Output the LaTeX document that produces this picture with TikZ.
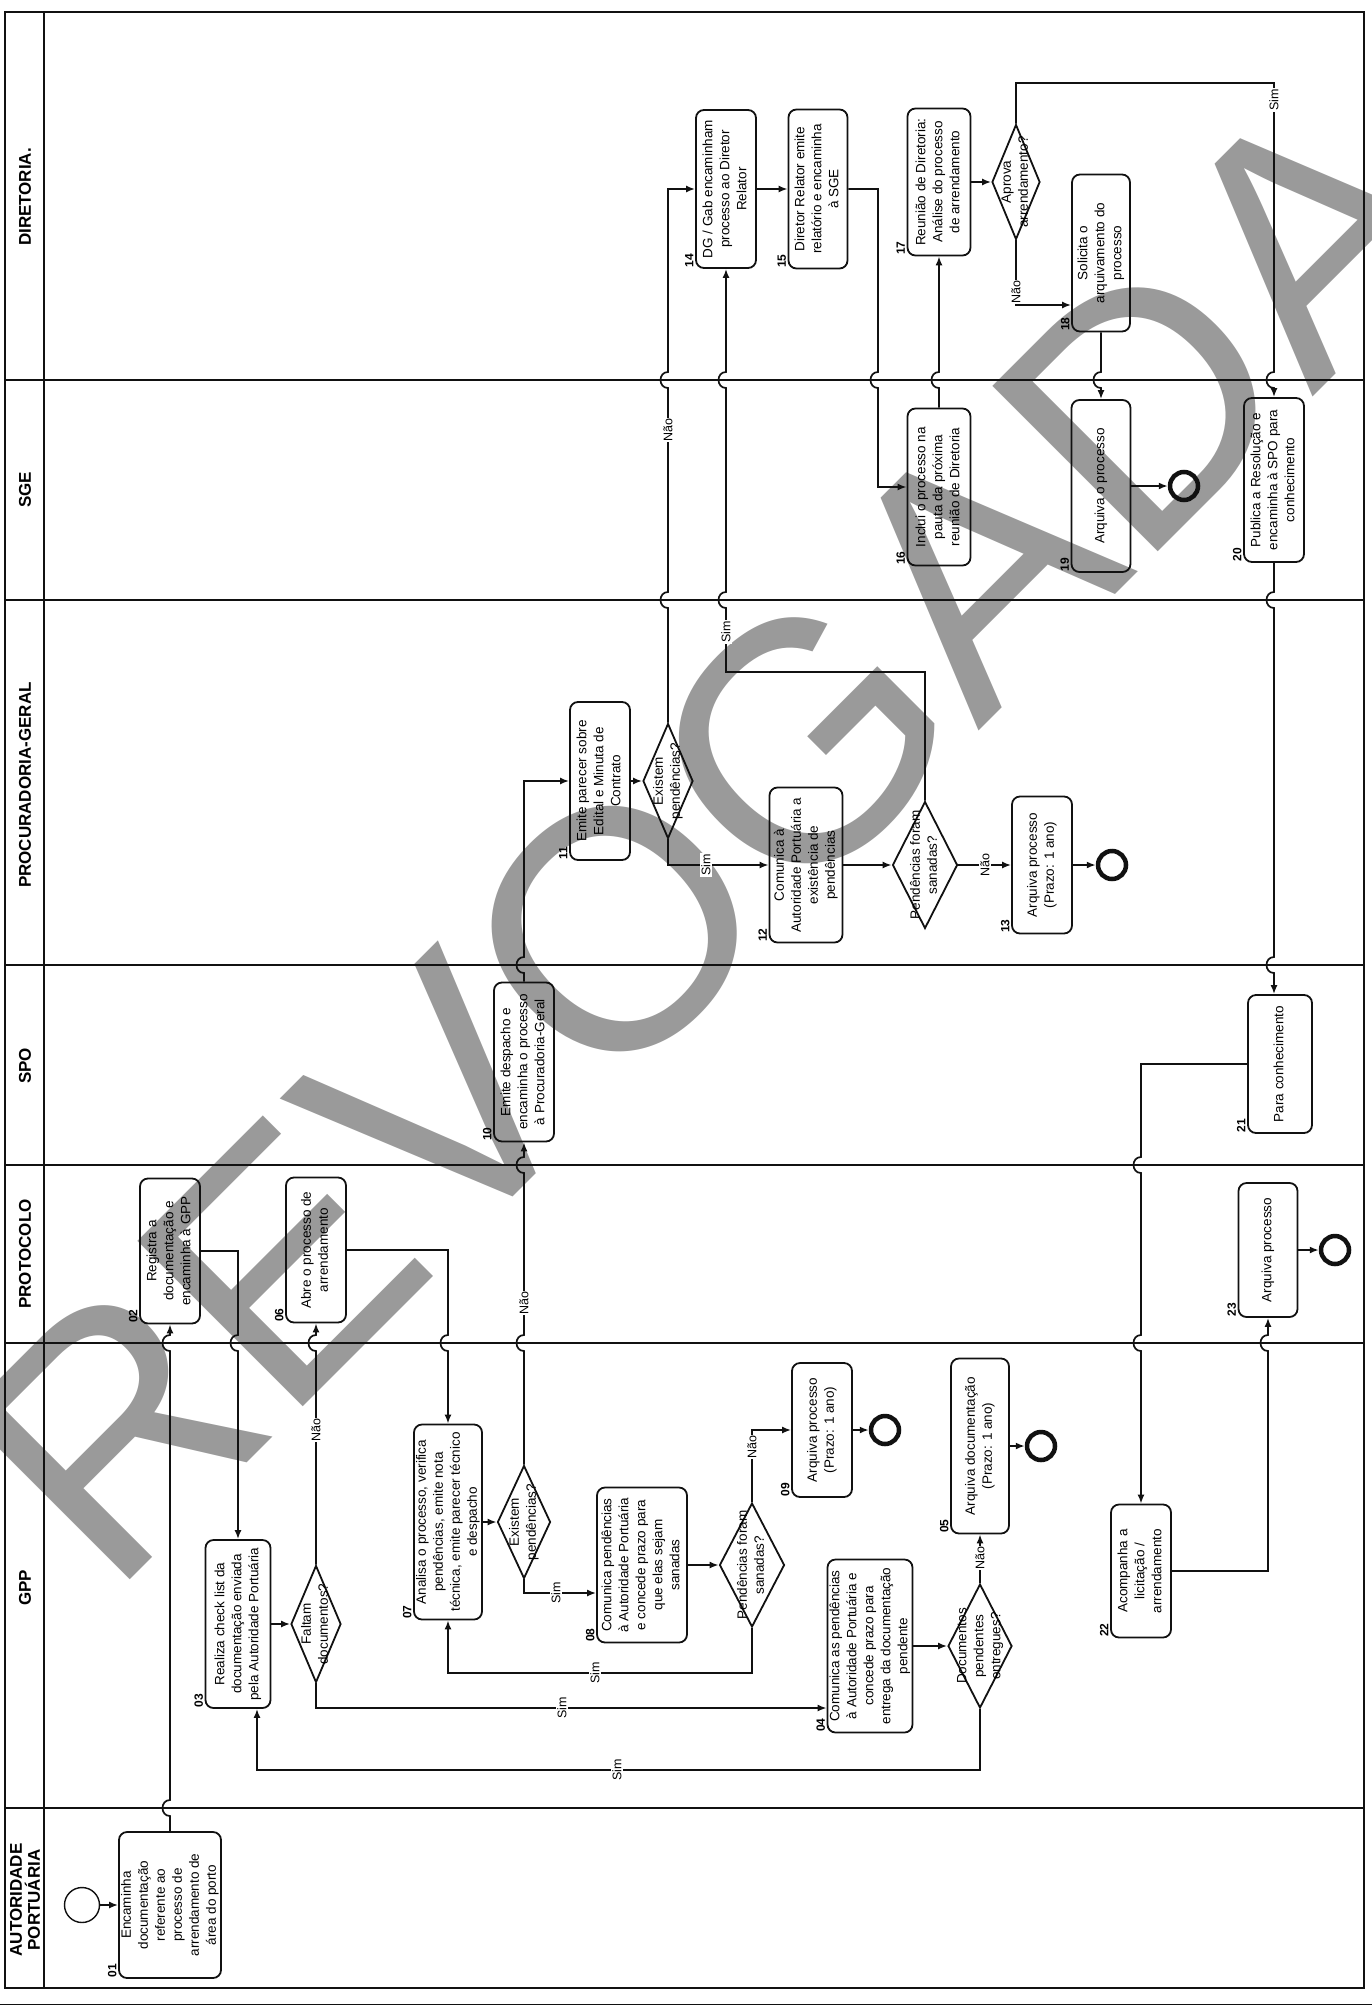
\documentclass[tikz,border=0pt]{standalone}
\usepackage{fontspec}
\usepackage{graphicx}
\setmainfont{Liberation Sans}
\usetikzlibrary{arrows.meta,shapes.geometric}
\definecolor{flink}{HTML}{111111}
\definecolor{flmark}{HTML}{9A9A9A}
\newcommand{\rt}[1]{\rotatebox{90}{\begin{tabular}{@{}c@{}}#1\end{tabular}}}
\tikzset{
  fl lane/.style={draw=flink, line width=2.6pt},
  fl task/.style={draw=flink, line width=1.8pt, rounded corners=8pt, inner sep=0pt,
    font=\fontsize{13.5}{17}\selectfont},
  fl gate/.style={draw=flink, line width=1.8pt, diamond, inner sep=0pt},
  fl gate text/.style={inner sep=0pt, font=\fontsize{13.5}{17}\selectfont},
  fl num/.style={rotate=90, anchor=south west, inner sep=1.5pt,
    font=\bfseries\fontsize{12}{14}\selectfont},
  fl end/.style={circle, draw=flink, line width=4.5pt, minimum size=28pt, inner sep=0pt},
  fl start/.style={circle, draw=flink, line width=1.4pt, minimum size=35pt, inner sep=0pt},
  fl arrow/.style={-{Latex[length=9pt,width=7pt]}, line width=1.7pt, draw=flink},
  fl label/.style={rotate=90, fill=white, inner sep=1pt, font=\fontsize{12.5}{14}\selectfont},
  fl head/.style={rotate=90, align=center, font=\bfseries\fontsize{17}{18}\selectfont},
  fl mark/.style={text=flmark, inner sep=0pt, font=\fontsize{340}{340}\selectfont},
  hop up/.style 2 args={insert path={-- (#1,#2+8) .. controls (#1-10,#2+8) and (#1-10,#2-8) .. (#1,#2-8)}},
  hop down/.style 2 args={insert path={-- (#1,#2-8) .. controls (#1-10,#2-8) and (#1-10,#2+8) .. (#1,#2+8)}}
}

\begin{document}
\begin{tikzpicture}[x=1pt, y=-1pt]
  \useasboundingbox (0,0) rectangle (1372,2010);
  % watermark
  \node[fl mark, rotate=45, anchor=base west] (wm) at (110,1600) {REVOGADA};

  % lanes
  \draw[fl lane] (5,12) rectangle (1364,1988);
  \draw[fl lane] (44,12) -- (44,1988);
  \foreach \ly in {380,600,965,1165,1343,1808}
    \draw[fl lane] (5,\ly) -- (1364,\ly);
  \draw[line width=1pt, draw=flink] (0,2004) -- (1372,2004);

  \node[fl head] (hdir) at (25,197) {DIRETORIA.};
  \node[fl head] (hsge) at (25,490) {SGE};
  \node[fl head] (hpg) at (25,785) {PROCURADORIA-GERAL};
  \node[fl head] (hspo) at (25,1066) {SPO};
  \node[fl head] (hprot) at (25,1254) {PROTOCOLO};
  \node[fl head] (hgpp) at (25,1588) {GPP};
  \node[fl head] (hap) at (25,1900) {AUTORIDADE\\PORTUÁRIA};

  % autoridade portuaria / protocolo / gpp
  \node[fl start] (st) at (82,1905) {};
  \node[fl task, minimum width=100, minimum height=146] (b01) at (170,1905)
    {\rt{Encaminha\\documentação\\referente ao\\processo de\\arrendamento de\\área do porto}};
  \node[fl task, minimum width=60, minimum height=145] (b02) at (170,1251)
    {\rt{Registra a\\documentação e\\encaminha à GPP}};
  \node[fl task, minimum width=65, minimum height=168] (b03) at (238,1624)
    {\rt{Realiza check list da\\documentação enviada\\pela Autoridade Portuária}};
  \node[fl gate, minimum width=50, minimum height=117] (d03) at (316,1624) {};
  \node[fl gate text] (t03) at (d03) {\rt{Faltam\\documentos?}};
  \node[fl task, minimum width=80, minimum height=173] (b04) at (870,1646)
    {\rt{Comunica as pendências\\à Autoridade Portuária e\\concede prazo para\\entrega da documentação\\pendente}};
  \node[fl gate, minimum width=64, minimum height=124] (d04) at (980,1646) {};
  \node[fl gate text] (t04) at (d04) {\rt{Documentos\\pendentes\\entregues?}};
  \node[fl task, minimum width=58, minimum height=175] (b05) at (980,1446)
    {\rt{Arquiva documentação\\(Prazo: 1 ano)}};
  \node[fl end] (e05) at (1041,1446) {};
  \node[fl task, minimum width=60, minimum height=145] (b06) at (316,1250)
    {\rt{Abre o processo de\\arrendamento}};
  \node[fl task, minimum width=64, minimum height=195] (b07) at (448,1522)
    {\rt{Analisa o processo, verifica\\pendências, emite nota\\técnica, emite parecer técnico\\e despacho}};
  \node[fl gate, minimum width=53, minimum height=113] (d07) at (524,1522) {};
  \node[fl gate text] (t07) at (d07) {\rt{Existem\\pendências?}};
  \node[fl task, minimum width=90, minimum height=155] (b08) at (642,1565)
    {\rt{Comunica pendências\\à Autoridade Portuária\\e concede prazo para\\que elas sejam\\sanadas}};
  \node[fl gate, minimum width=65, minimum height=124] (d08) at (752,1565) {};
  \node[fl gate text] (t08) at (d08) {\rt{Pendências foram\\sanadas?}};
  \node[fl task, minimum width=60, minimum height=134] (b09) at (822,1430)
    {\rt{Arquiva processo\\(Prazo: 1 ano)}};
  \node[fl end] (e09) at (885,1430) {};

  % spo / procuradoria
  \node[fl task, minimum width=60, minimum height=159] (b10) at (524,1062)
    {\rt{Emite despacho e\\encaminha o processo\\à Procuradoria-Geral}};
  \node[fl task, minimum width=60, minimum height=158] (b11) at (600,781)
    {\rt{Emite parecer sobre\\Edital e Minuta de\\Contrato}};
  \node[fl gate, minimum width=50, minimum height=115] (d11) at (668,781) {};
  \node[fl gate text] (t11) at (d11) {\rt{Existem\\pendências?}};
  \node[fl task, minimum width=73, minimum height=155] (b12) at (806,865)
    {\rt{Comunica à\\Autoridade Portuária a\\existência de\\pendências}};
  \node[fl gate, minimum width=65, minimum height=127] (d12) at (925,865) {};
  \node[fl gate text] (t12) at (d12) {\rt{Pendências foram\\sanadas?}};
  \node[fl task, minimum width=60, minimum height=137] (b13) at (1042,865)
    {\rt{Arquiva processo\\(Prazo: 1 ano)}};
  \node[fl end] (e13) at (1112,865) {};

  % diretoria / sge
  \node[fl task, minimum width=60, minimum height=158] (b14) at (726,189)
    {\rt{DG / Gab encaminham\\processo ao Diretor\\Relator}};
  \node[fl task, minimum width=59, minimum height=159] (b15) at (818,189)
    {\rt{Diretor Relator emite\\relatório e encaminha\\à SGE}};
  \node[fl task, minimum width=63, minimum height=157] (b16) at (939,487)
    {\rt{Inclui o processo na\\pauta da próxima\\reunião de Diretoria}};
  \node[fl task, minimum width=63, minimum height=147] (b17) at (939,182)
    {\rt{Reunião de Diretoria:\\Análise do processo\\de arrendamento}};
  \node[fl gate, minimum width=48, minimum height=115] (d17) at (1016,182) {};
  \node[fl gate text] (t17) at (d17) {\rt{Aprova\\arrendamento?}};
  \node[fl task, minimum width=58, minimum height=157] (b18) at (1101,253)
    {\rt{Solicita o\\arquivamento do\\processo}};
  \node[fl task, minimum width=59, minimum height=172] (b19) at (1101,486)
    {\rt{Arquiva o processo}};
  \node[fl end] (e19) at (1184,486) {};
  \node[fl task, minimum width=60, minimum height=164] (b20) at (1274,480)
    {\rt{Publica a Resolução e\\encaminha à SPO para\\conhecimento}};
  \node[fl task, minimum width=64, minimum height=138] (b21) at (1280,1064)
    {\rt{Para conhecimento}};
  \node[fl task, minimum width=60, minimum height=133] (b22) at (1141,1571)
    {\rt{Acompanha a\\licitação /\\arrendamento}};
  \node[fl task, minimum width=59, minimum height=134] (b23) at (1268,1250)
    {\rt{Arquiva processo}};
  \node[fl end] (e23) at (1335,1250) {};

  % step numbers
  \node[fl num] (n01) at (b01.south west) {01};
  \node[fl num] (n02) at (b02.south west) {02};
  \node[fl num] (n03) at (b03.south west) {03};
  \node[fl num] (n04) at (b04.south west) {04};
  \node[fl num] (n05) at (b05.south west) {05};
  \node[fl num] (n06) at (b06.south west) {06};
  \node[fl num] (n07) at (b07.south west) {07};
  \node[fl num] (n08) at (b08.south west) {08};
  \node[fl num] (n09) at (b09.south west) {09};
  \node[fl num] (n10) at (b10.south west) {10};
  \node[fl num] (n11) at (b11.south west) {11};
  \node[fl num] (n12) at (b12.south west) {12};
  \node[fl num] (n13) at (b13.south west) {13};
  \node[fl num] (n14) at (b14.south west) {14};
  \node[fl num] (n15) at (b15.south west) {15};
  \node[fl num] (n16) at (b16.south west) {16};
  \node[fl num] (n17) at (b17.south west) {17};
  \node[fl num] (n18) at (b18.south west) {18};
  \node[fl num] (n19) at (b19.south west) {19};
  \node[fl num] (n20) at (b20.south west) {20};
  \node[fl num] (n21) at (b21.south west) {21};
  \node[fl num] (n22) at (b22.south west) {22};
  \node[fl num] (n23) at (b23.south west) {23};

  % flow
  \draw[fl arrow] (st) -- (b01);
  \draw[fl arrow] (b01.north) [hop up={170}{1808}] [hop up={170}{1343}] -- (b02.south);
  \draw[fl arrow] (b02.east) -- (238,1251) [hop down={238}{1343}] -- (b03.north);
  \draw[fl arrow] (b03) -- (d03);
  \draw[fl arrow] (d03.north) [hop up={316}{1343}] -- (b06.south);
  \draw[fl arrow] (d03.south) |- (b04.west |- 0,1708);
  \draw[fl arrow] (b04) -- (d04);
  \draw[fl arrow] (d04.north) -- (b05.south);
  \draw[fl arrow] (d04.south) -- (980,1770) -| (257,0 |- b03.south);
  \draw[fl arrow] (b05) -- (e05);
  \draw[fl arrow] (b06.east) -- (448,1250) [hop down={448}{1343}] -- (b07.north);
  \draw[fl arrow] (b07) -- (d07);
  \draw[fl arrow] (d07.north) [hop up={524}{1343}] [hop up={524}{1165}] -- (b10.south);
  \draw[fl arrow] (d07.south) |- (b08.west |- 0,1593);
  \draw[fl arrow] (b08) -- (d08);
  \draw[fl arrow] (d08.north) |- (b09.west);
  \draw[fl arrow] (d08.south) -- (752,1673) -| (b07.south);
  \draw[fl arrow] (b09) -- (e09);
  \draw[fl arrow] (b10.north) [hop up={524}{965}] |- (b11.west);
  \draw[fl arrow] (b11) -- (d11);
  \draw[fl arrow] (d11.north) [hop up={668}{600}] [hop up={668}{380}] |- (b14.west);
  \draw[fl arrow] (d11.south) |- (b12.west);
  \draw[fl arrow] (b12) -- (d12);
  \draw[fl arrow] (d12.east) -- (b13.west);
  \draw[fl arrow] (d12.north) -- (925,672) -- (726,672) [hop up={726}{600}] [hop up={726}{380}] -- (b14.south);
  \draw[fl arrow] (b13) -- (e13);
  \draw[fl arrow] (b14) -- (b15);
  \draw[fl arrow] (b15.east) -- (878,189) [hop down={878}{380}] |- (b16.west);
  \draw[fl arrow] (b16.north) [hop up={939}{380}] -- (b17.south);
  \draw[fl arrow] (b17) -- (d17);
  \draw[fl arrow] (d17.north) |- (1274,83) [hop down={1274}{380}] -- (b20.north);
  \draw[fl arrow] (d17.south) |- (b18.west |- 0,305);
  \draw[fl arrow] (b18.south) [hop down={1101}{380}] -- (b19.north);
  \draw[fl arrow] (b19) -- (e19);
  \draw[fl arrow] (b20.south) [hop down={1274}{600}] [hop down={1274}{965}] -- (b20.south |- b21.north);
  \draw[fl arrow] (b21.west) -- (1141,1064) [hop down={1141}{1165}] [hop down={1141}{1343}] -- (b22.north);
  \draw[fl arrow] (b22.east) -- (1268,1571) [hop up={1268}{1343}] -- (b23.south);
  \draw[fl arrow] (b23) -- (e23);

  % branch labels
  \node[fl label] (l03n) at (316,1430) {Não};
  \node[fl label] (l03s) at (562,1708) {Sim};
  \node[fl label] (l04n) at (980,1558) {Não};
  \node[fl label] (l04s) at (617,1770) {Sim};
  \node[fl label] (l07n) at (524,1303) {Não};
  \node[fl label] (l07s) at (556,1593) {Sim};
  \node[fl label] (l08n) at (752,1447) {Não};
  \node[fl label] (l08s) at (595,1673) {Sim};
  \node[fl label] (l11n) at (668,430) {Não};
  \node[fl label] (l11s) at (706,865) {Sim};
  \node[fl label] (l12s) at (726,632) {Sim};
  \node[fl label] (l12n) at (985,865) {Não};
  \node[fl label] (l17s) at (1274,100) {Sim};
  \node[fl label] (l17n) at (1016,292) {Não};
\end{tikzpicture}
\end{document}
